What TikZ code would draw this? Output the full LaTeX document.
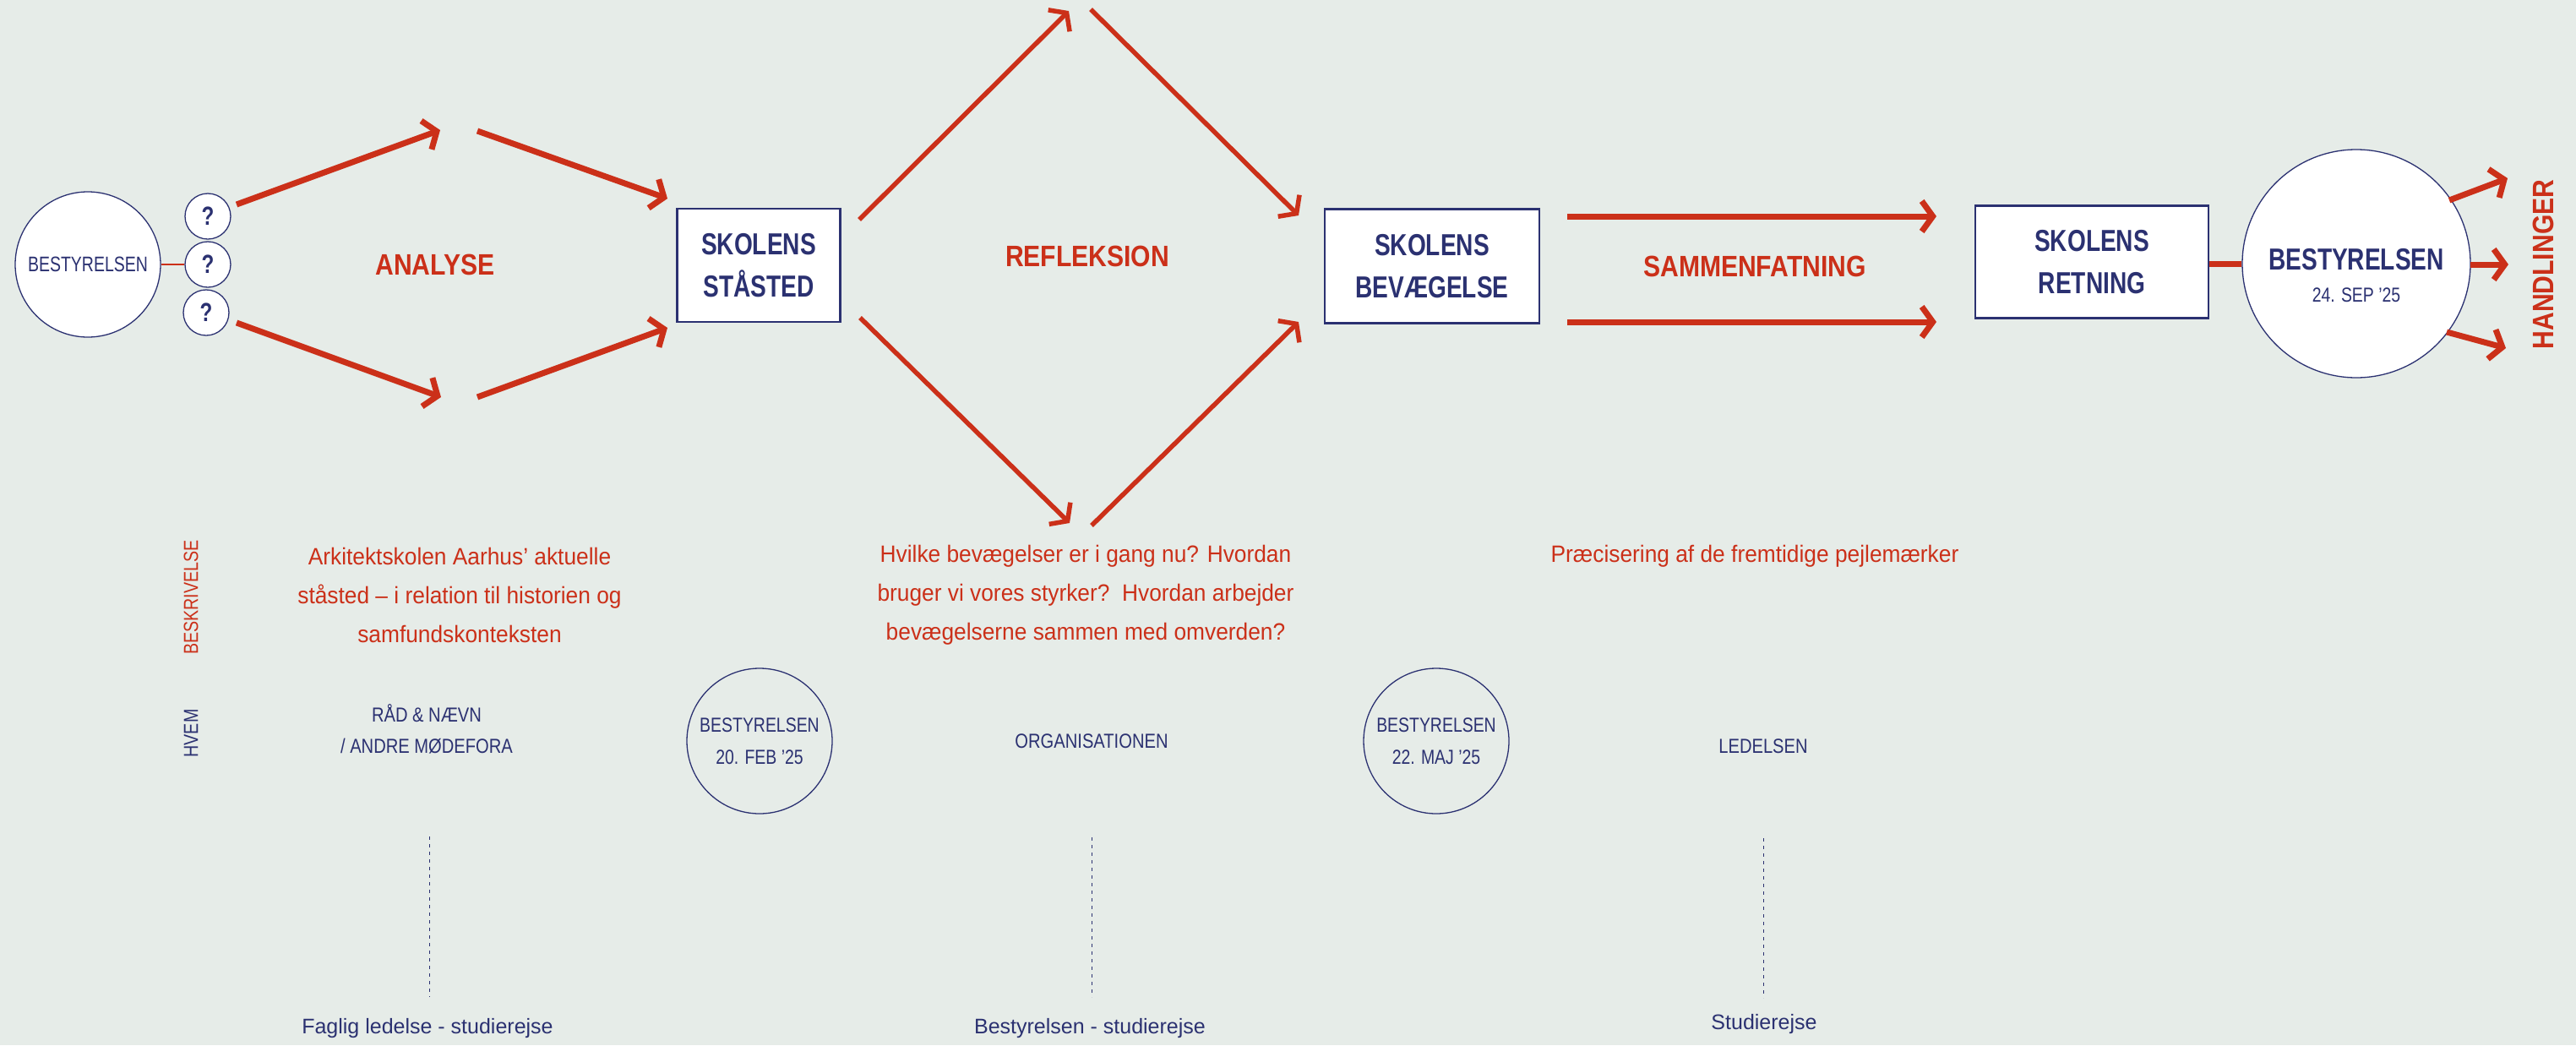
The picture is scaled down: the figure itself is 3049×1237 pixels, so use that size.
\documentclass[tikz,border=0pt]{standalone}
\usepackage{fontspec}
\setmainfont{Liberation Sans}[FakeStretch=0.78]
\newfontfamily\widesans{Liberation Sans}[FakeStretch=0.82]
\newfontfamily\headsans{Liberation Sans}[FakeStretch=0.86]
\newfontfamily\descsans{Liberation Sans}[FakeStretch=0.94]
\newfontfamily\whosans{Liberation Sans}[FakeStretch=0.84]
\newfontfamily\tripsans{Liberation Sans}[FakeStretch=1.0]
\newfontfamily\circsans{Liberation Sans}[FakeStretch=0.81]
\usetikzlibrary{arrows.meta}
\definecolor{bg}{HTML}{E6ECE8}
\definecolor{rd}{HTML}{CB3019}
\definecolor{nv}{HTML}{2B3171}
\tikzset{
  arr/.style={draw=rd, line width=7pt, -{Straight Barb[length=13pt,width=36pt]}},
  thinarr/.style={draw=rd, line width=5.5pt, -{Straight Barb[length=13pt,width=36pt]}},
  bigcirc/.style={circle, draw=nv, line width=1.3pt, fill=white, inner sep=0pt},
  datecirc/.style={circle, draw=nv, line width=1.3pt, inner sep=0pt, minimum size=172pt,
     text=nv, align=center, font=\circsans\fontsize{24}{38}\selectfont},
  qcirc/.style={circle, draw=nv, line width=1.3pt, fill=white, inner sep=0pt, minimum size=54pt,
     text=nv, font=\fontsize{31}{31}\selectfont\bfseries},
  skbox/.style={rectangle, draw=nv, line width=2.5pt, fill=white, inner sep=0pt, text=nv,
     align=center, font=\fontsize{36}{50}\selectfont\bfseries},
  phase/.style={text=rd, inner sep=0pt, font=\headsans\fontsize{35}{35}\selectfont\bfseries},
  desc/.style={text=rd, inner sep=0pt, align=center, font=\descsans\fontsize{28}{46}\selectfont},
  who/.style={text=nv, inner sep=0pt, align=center, font=\whosans\fontsize{24}{37}\selectfont},
  trip/.style={text=nv, inner sep=0pt, align=center, font=\tripsans\fontsize{25}{25}\selectfont},
  side/.style={inner sep=0pt, rotate=90, font=\widesans\fontsize{24}{24}\selectfont},
  dashline/.style={draw=nv, line width=1pt, dash pattern=on 4pt off 5pt},
}
\begin{document}
\begin{tikzpicture}[x=1pt,y=-1pt]
\fill[bg] (0,0) rectangle (3049,1237);
\useasboundingbox (0,0) rectangle (3049,1237);

% left circle and questions
\node[bigcirc, minimum size=172pt, text=nv, font=\fontsize{25}{25}\selectfont] (b0) at (104,313) {BESTYRELSEN};
\node[qcirc] (q1) at (246,256) {?};
\node[qcirc] (q2) at (246,313) {?};
\node[qcirc] (q3) at (244,370) {?};
\draw[rd, line width=2.5pt] (b0) -- (q2);

% boxes
\node[skbox, minimum width=193pt, minimum height=134pt] (box1) at (898,314) {SKOLENS\\STÅSTED};
\node[skbox, minimum width=254pt, minimum height=135pt] (box2) at (1695,315) {SKOLENS\\BEVÆGELSE};
\node[skbox, minimum width=276pt, minimum height=133pt] (box3) at (2476,310) {SKOLENS\\RETNING};

% right circle
\node[bigcirc, minimum size=270pt] (b4) at (2789,312) {};
\node[text=nv, inner sep=0pt, font=\fontsize{36}{36}\selectfont\bfseries] (b4t) at (2789,307) {BESTYRELSEN};
\node[text=nv, inner sep=0pt, font=\circsans\fontsize{24}{24}\selectfont] (b4d) at (2789,349) {24. SEP ’25};
\draw[rd, line width=7pt] (box3.east |- b4.center) -- (b4.west);

% phase labels
\node[phase] (analyse) at (515,313) {ANALYSE};
\node[phase] (refl) at (1287,303) {REFLEKSION};
\node[phase] (samm) at (2077,315) {SAMMENFATNING};
\node[phase, rotate=90] (handl) at (3010,313) {HANDLINGER};

% arrow coordinates
\coordinate (a1s) at (280,242); \coordinate (a1e) at (521,154);
\coordinate (a2s) at (565,155); \coordinate (a2e) at (790,235);
\coordinate (a3s) at (280,382); \coordinate (a3e) at (522,470);
\coordinate (a4s) at (565,470); \coordinate (a4e) at (790,388);
\coordinate (r1s) at (1017,260); \coordinate (r1e) at (1265,13);
\coordinate (r2s) at (1291,11); \coordinate (r2e) at (1537,255);
\coordinate (r3s) at (1018,376); \coordinate (r3e) at (1266,619);
\coordinate (r4s) at (1292,622); \coordinate (r4e) at (1537,381);
\coordinate (s1s) at (1855,256); \coordinate (s1e) at (2292,256);
\coordinate (s2s) at (1855,381); \coordinate (s2e) at (2292,381);
\coordinate (h1s) at (2899,237); \coordinate (h1e) at (2968,211);
\coordinate (h2s) at (2924,313); \coordinate (h2e) at (2969,313);
\coordinate (h3s) at (2896,393); \coordinate (h3e) at (2966,412);

\draw[arr] (a1s) -- (a1e);
\draw[arr] (a2s) -- (a2e);
\draw[arr] (a3s) -- (a3e);
\draw[arr] (a4s) -- (a4e);
\draw[thinarr] (r1s) -- (r1e);
\draw[thinarr] (r2s) -- (r2e);
\draw[thinarr] (r3s) -- (r3e);
\draw[thinarr] (r4s) -- (r4e);
\draw[arr] (s1s) -- (s1e);
\draw[arr] (s2s) -- (s2e);
\draw[arr] (h1s) -- (h1e);
\draw[arr] (h2s) -- (h2e);
\draw[arr] (h3s) -- (h3e);

% side labels
\node[side, text=rd] (besk) at (226,707) {BESKRIVELSE};
\node[side, text=nv] (hvem) at (226,868) {HVEM};

% descriptions
\node[desc] (d1) at (544,704) {Arkitektskolen Aarhus’ aktuelle\\ståsted – i relation til historien og\\samfundskonteksten};
\node[desc] (d2) at (1285,704) {Hvilke bevægelser er i gang nu? Hvordan\\bruger vi vores styrker?\ \ Hvordan arbejder\\bevægelserne sammen med omverden?};
\node[desc] (d3) at (2077,658) {Præcisering af de fremtidige pejlemærker};

% who
\node[who] (w1) at (505,863) {RÅD \& NÆVN\\/ ANDRE MØDEFORA};
\node[datecirc] (c1) at (899,877) {BESTYRELSEN\\20. FEB ’25};
\node[who] (w2) at (1292,877) {ORGANISATIONEN};
\node[datecirc] (c2) at (1700,877) {BESTYRELSEN\\22. MAJ ’25};
\node[who] (w3) at (2087,883) {LEDELSEN};

% dashed lines
\coordinate (l1t) at (508,990); \coordinate (l1b) at (508,1180);
\coordinate (l2t) at (1292,991); \coordinate (l2b) at (1292,1180);
\coordinate (l3t) at (2087,992); \coordinate (l3b) at (2087,1181);
\draw[dashline] (l1t) -- (l1b);
\draw[dashline] (l2t) -- (l2b);
\draw[dashline] (l3t) -- (l3b);

\node[trip] (t1) at (506,1217) {Faglig ledelse - studierejse};
\node[trip] (t2) at (1290,1217) {Bestyrelsen - studierejse};
\node[trip] (t3) at (2088,1212) {Studierejse};
\end{tikzpicture}
\end{document}
